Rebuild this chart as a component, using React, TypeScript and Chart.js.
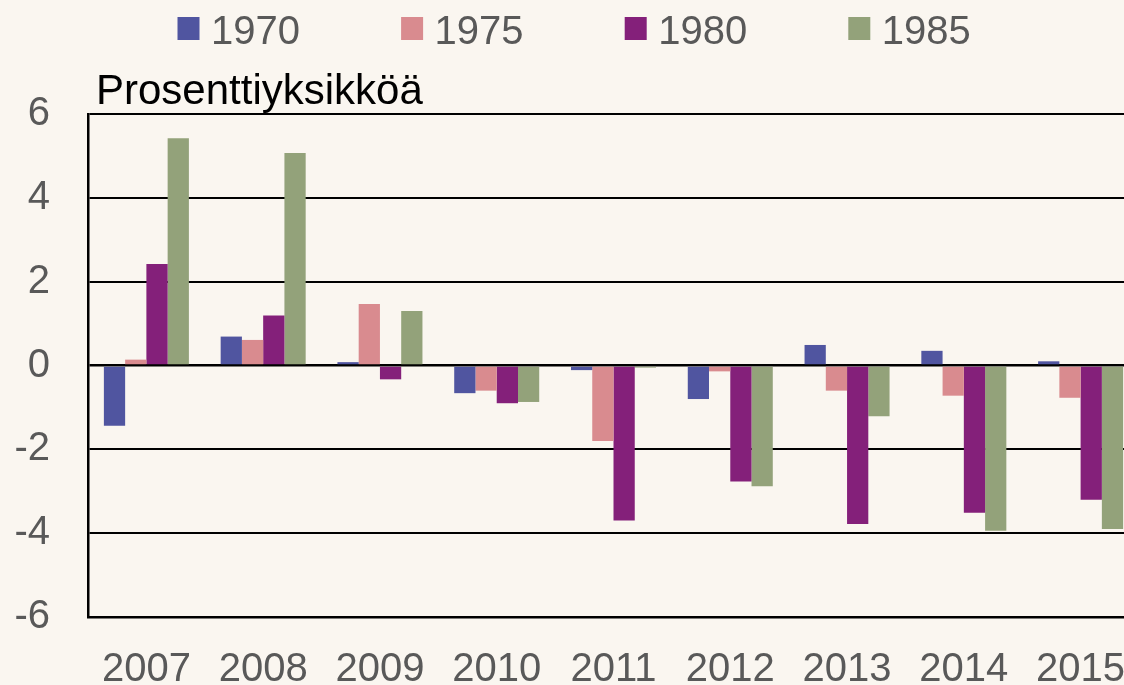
import React, { useEffect, useRef } from "react";
import { Chart, registerables } from "chart.js";

Chart.register(...registerables);

const categories = ["2007", "2008", "2009", "2010", "2011", "2012", "2013", "2014", "2015"];
const seriesLabels = ["1970", "1975", "1980", "1985"];
const s1970 = [-1.44, 0.69, 0.08, -0.66, -0.11, -0.8, 0.49, 0.35, 0.1];
const s1975 = [0.14, 0.61, 1.47, -0.6, -1.8, -0.14, -0.6, -0.72, -0.77];
const s1980 = [2.42, 1.19, -0.33, -0.9, -3.7, -2.77, -3.78, -3.51, -3.2];
const s1985 = [5.42, 5.07, 1.3, -0.87, -0.05, -2.88, -1.21, -3.94, -3.9];
const yTicks = [-6, -4, -2, 0, 2, 4, 6];
const unitLabel = "Prosenttiyksikköä";

const seriesColors = ["#5055A0", "#D98B8F", "#84207A", "#93A27A"];
const FONT = "'Liberation Sans', Arial, sans-serif";
const BG = "#FAF6F0";

const bgPlugin = {
  id: "bgFill",
  beforeDraw(chart: any) {
    const { ctx, width, height } = chart;
    ctx.save();
    ctx.fillStyle = BG;
    ctx.fillRect(0, 0, width, height);
    ctx.restore();
  },
};

const legendTitlePlugin = {
  id: "legendTitle",
  afterDraw(chart: any) {
    const { ctx } = chart;
    ctx.save();
    ctx.font = `40px ${FONT}`;
    ctx.textBaseline = "alphabetic";
    ctx.textAlign = "left";
    chart.data.datasets.forEach((ds: any, i: number) => {
      const x = 177.5 + i * 223.6;
      ctx.fillStyle = ds.backgroundColor;
      ctx.fillRect(x, 17, 22, 23);
      ctx.fillStyle = "#595959";
      ctx.fillText(ds.label, x + 33.5, 43.5);
    });
    ctx.font = `42px ${FONT}`;
    ctx.fillStyle = "#000000";
    ctx.fillText(unitLabel, 96, 103.5);
    ctx.restore();
  },
};

export default function App() {
  const ref = useRef<HTMLCanvasElement | null>(null);

  useEffect(() => {
    document.body.style.margin = "0";
    document.body.style.background = BG;
    const canvas = ref.current;
    if (!canvas) return;
    const values = [s1970, s1975, s1980, s1985];
    const chart = new Chart(canvas, {
      type: "bar",
      data: {
        labels: categories,
        datasets: seriesLabels.map((label, i) => ({
          label,
          data: values[i],
          backgroundColor: seriesColors[i],
          borderWidth: 0,
          categoryPercentage: 0.728,
          barPercentage: 1,
        })),
      },
      options: {
        responsive: false,
        animation: false,
        devicePixelRatio: 1,
        layout: { padding: { top: 114, left: 0, right: 0, bottom: 0 } },
        plugins: {
          legend: { display: false },
          title: { display: false },
          tooltip: { enabled: false },
        },
        scales: {
          x: {
            grid: { display: false, drawTicks: false },
            border: { display: true, color: "#000000", width: 2.5 },
            ticks: {
              color: "#595959",
              font: { family: FONT, size: 40 },
              padding: 29,
              maxRotation: 0,
              autoSkip: false,
            },
            afterFit(scale: any) {
              scale.height = 68;
              scale.paddingLeft = 0;
              scale.paddingRight = 0;
            },
          },
          y: {
            min: -6,
            max: 6,
            afterBuildTicks(scale: any) {
              scale.ticks = yTicks.map((v) => ({ value: v }));
            },
            grid: {
              color: "#000000",
              lineWidth: (c: any) => (c.tick && c.tick.value === 0 ? 2.5 : 2),
              drawTicks: false,
            },
            border: { display: true, color: "#000000", width: 2.5 },
            ticks: {
              color: "#595959",
              font: { family: FONT, size: 40 },
              padding: 38,
            },
            afterFit(scale: any) {
              scale.width = 88;
              scale.paddingTop = 0;
              scale.paddingBottom = 0;
            },
          },
        },
      },
      plugins: [bgPlugin, legendTitlePlugin],
    });
    return () => chart.destroy();
  }, []);

  return (
    <div style={{ width: 1124, height: 685, overflow: "hidden", background: BG }}>
      <canvas ref={ref} width={1139} height={685} style={{ display: "block" }} />
    </div>
  );
}
